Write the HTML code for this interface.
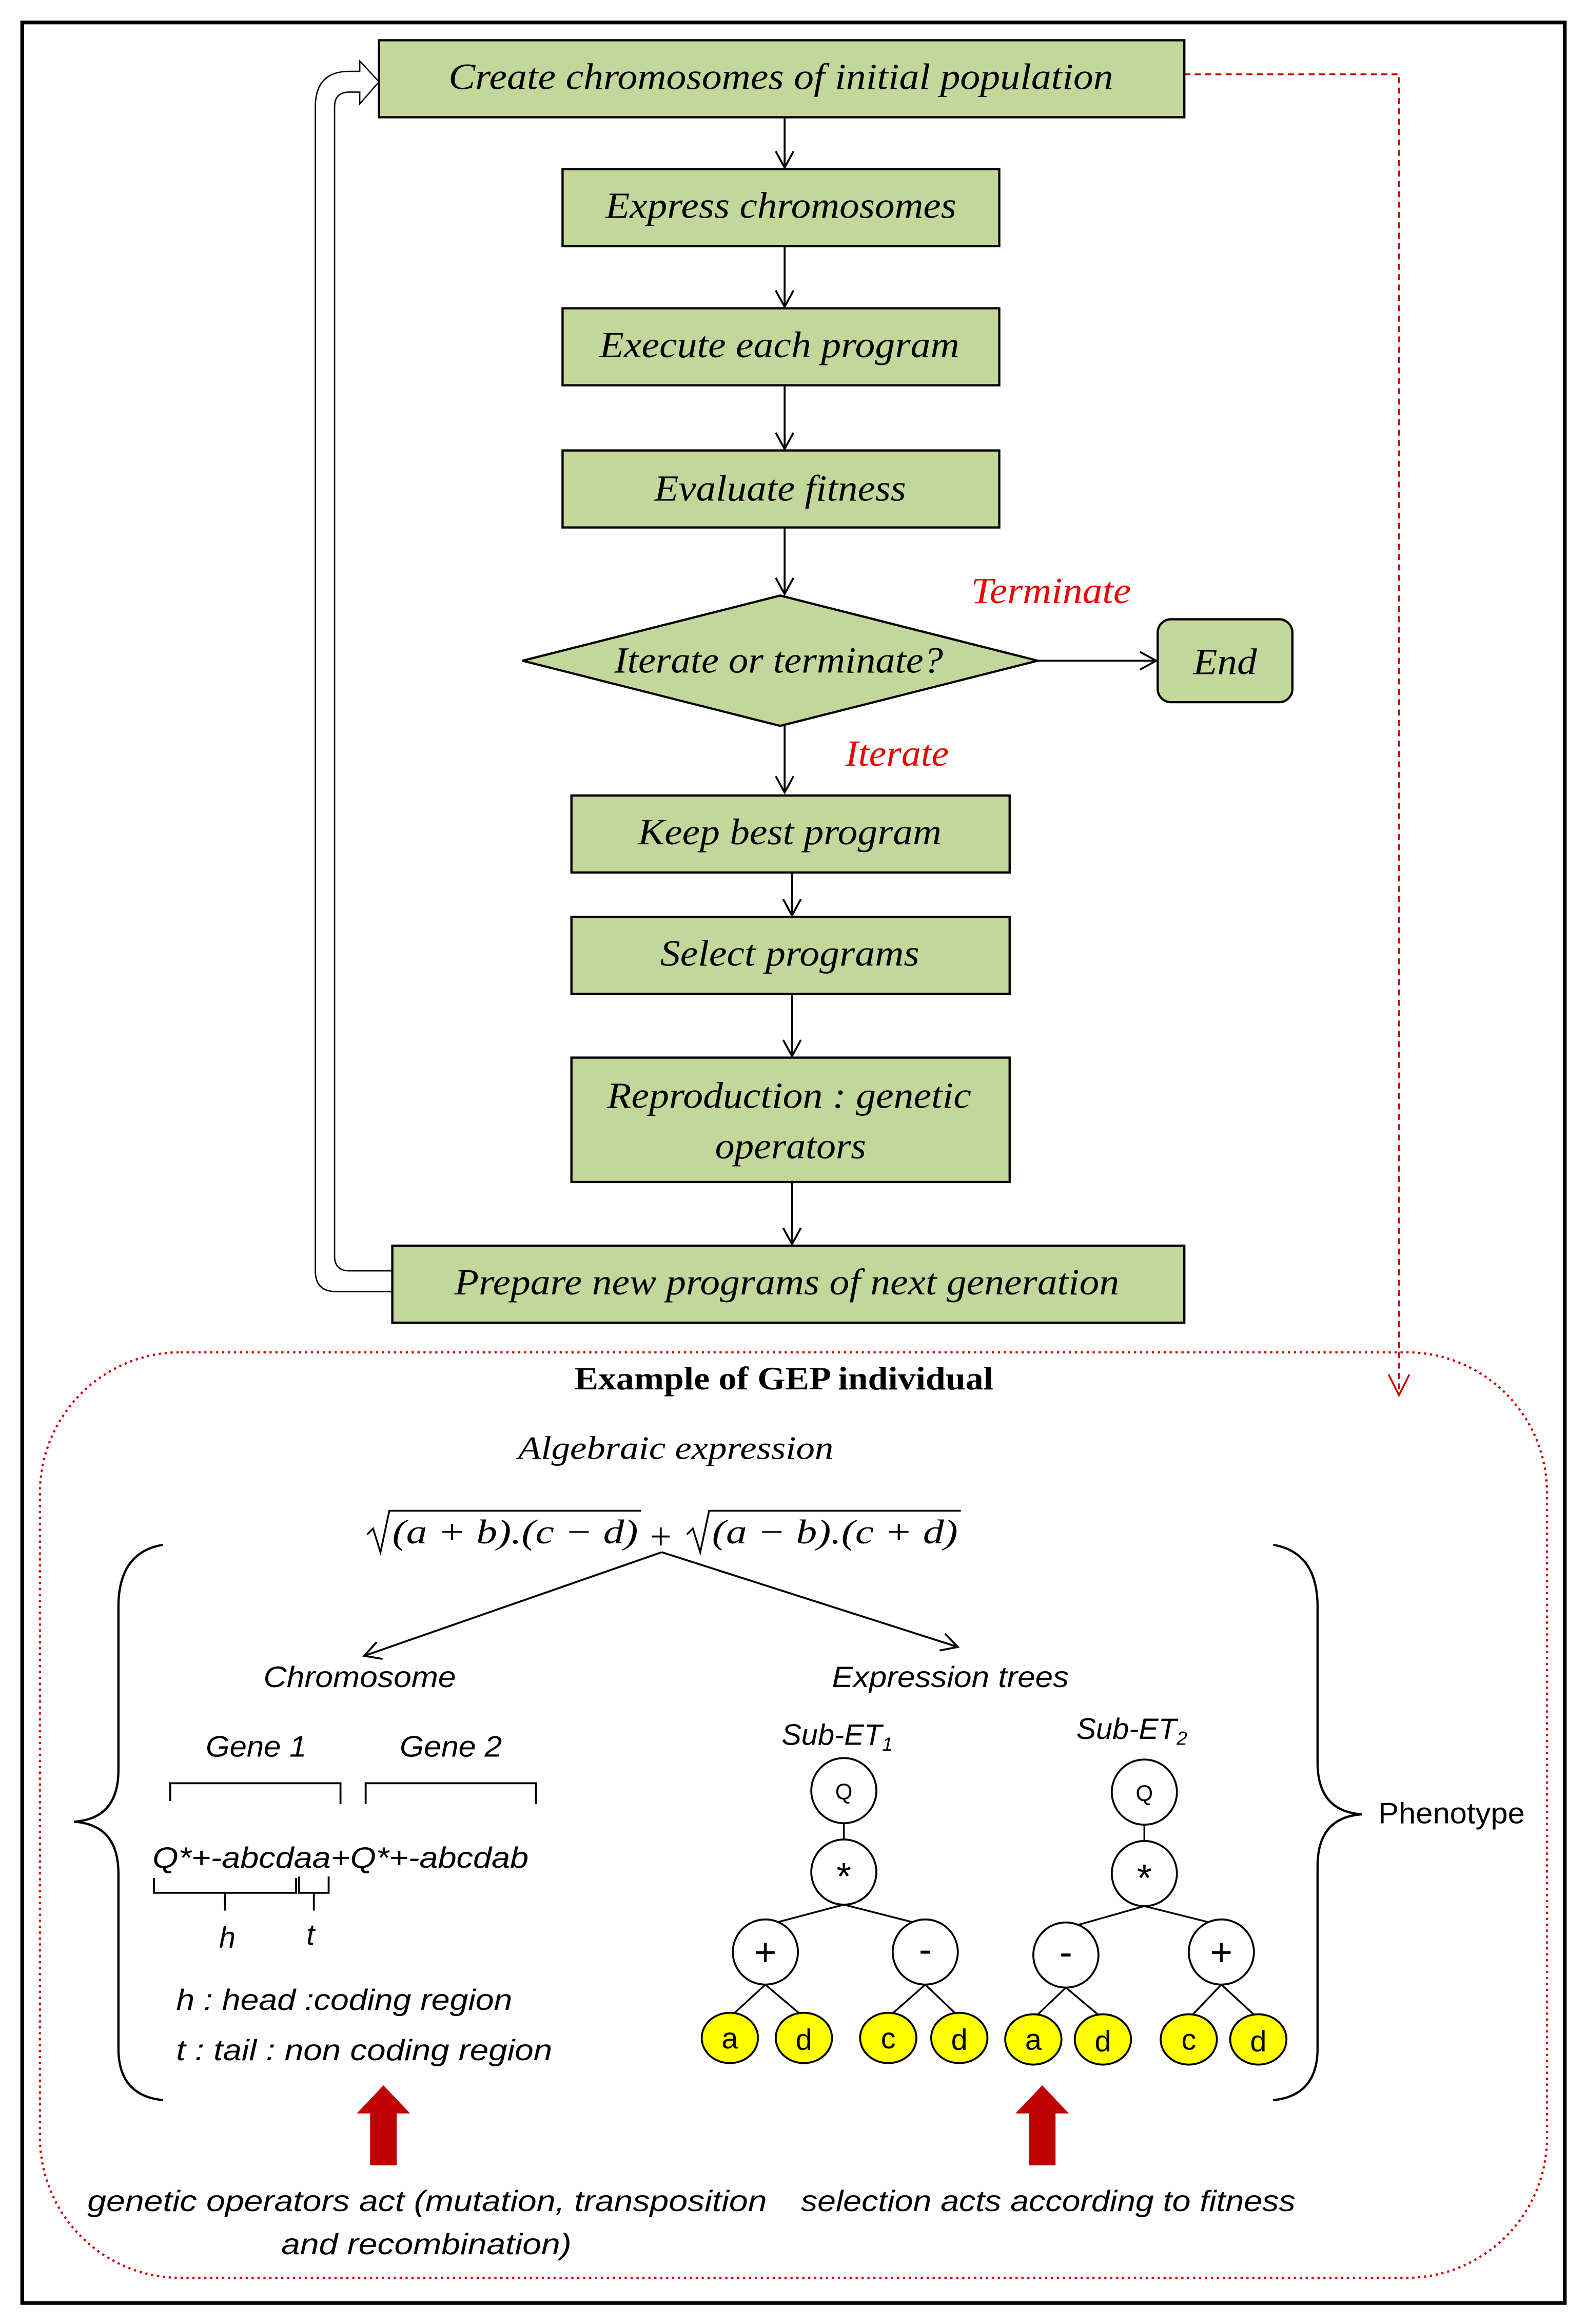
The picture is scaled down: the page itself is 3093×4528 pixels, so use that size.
<!DOCTYPE html>
<html><head><meta charset="utf-8"><style>
html,body{margin:0;padding:0;background:#fff;}
svg{display:block;}
.b{font-family:"Liberation Serif",serif;font-style:italic;font-size:25px;fill:#000;}
.s{font-family:"Liberation Sans",sans-serif;font-style:italic;font-size:19px;fill:#000;}
.n{font-family:"Liberation Sans",sans-serif;font-size:20px;fill:#000;}
</style></head><body>
<svg width="3093" height="4528" viewBox="0 0 1072 1569" xmlns="http://www.w3.org/2000/svg">
<defs>
<marker id="ah" markerWidth="14" markerHeight="14" refX="12" refY="7" orient="auto" markerUnits="userSpaceOnUse"><path d="M1,1 L12,7 L1,13" fill="none" stroke="#000" stroke-width="1.3"/></marker>
</defs>
<rect x="15" y="15" width="1042" height="1540" fill="none" stroke="#000" stroke-width="2.5"/>
<path d="M800,50 H945 V940" fill="none" stroke="#c00" stroke-width="1.2" stroke-dasharray="4,3"/>
<path d="M938,928 L945,942 L952,928" fill="none" stroke="#c00" stroke-width="1.2"/>
<rect x="27" y="913" width="1018" height="625" rx="95" ry="95" fill="none" stroke="#c00" stroke-width="1.5" stroke-dasharray="1.5,2.5"/>
<path d="M265,858 H236 Q226,858 226,848 V72 Q226,62 236,62 H243 V70 L256,55 L243,41 V48 H236 Q213,48 213,72 V858 Q213,872 227,872 H265" fill="#fff" stroke="#000" stroke-width="0.9"/>
<g fill="#c4d79b" stroke="#000" stroke-width="1.5">
<rect x="256" y="27" width="544" height="52"/>
<rect x="380" y="114" width="295" height="52"/>
<rect x="380" y="208" width="295" height="52"/>
<rect x="380" y="304" width="295" height="52"/>
<polygon points="353,446 527,402 701,446 527,490"/>
<rect x="782" y="418" width="91" height="56" rx="9"/>
<rect x="386" y="537" width="296" height="52"/>
<rect x="386" y="619" width="296" height="52"/>
<rect x="386" y="714" width="296" height="84"/>
<rect x="265" y="841" width="535" height="52"/>
</g>
<g stroke="#000" stroke-width="1.3" marker-end="url(#ah)">
<line x1="530" y1="79" x2="530" y2="113"/>
<line x1="530" y1="166" x2="530" y2="207"/>
<line x1="530" y1="260" x2="530" y2="303"/>
<line x1="530" y1="356" x2="530" y2="401"/>
<line x1="701" y1="446" x2="781" y2="446"/>
<line x1="530" y1="490" x2="530" y2="535"/>
<line x1="535" y1="589" x2="535" y2="618"/>
<line x1="535" y1="671" x2="535" y2="713"/>
<line x1="535" y1="798" x2="535" y2="840"/>
</g>
<g class="b">
<text x="303" y="60" textLength="449" lengthAdjust="spacingAndGlyphs">Create chromosomes of initial population</text>
<text x="409" y="147" textLength="237" lengthAdjust="spacingAndGlyphs">Express chromosomes</text>
<text x="405" y="241" textLength="243" lengthAdjust="spacingAndGlyphs">Execute each program</text>
<text x="442" y="338" textLength="170" lengthAdjust="spacingAndGlyphs">Evaluate fitness</text>
<text x="415" y="454" textLength="222" lengthAdjust="spacingAndGlyphs">Iterate or terminate?</text>
<text x="806" y="455" textLength="43" lengthAdjust="spacingAndGlyphs">End</text>
<text x="431" y="570" textLength="205" lengthAdjust="spacingAndGlyphs">Keep best program</text>
<text x="446" y="652" textLength="175" lengthAdjust="spacingAndGlyphs">Select programs</text>
<text x="410" y="748" textLength="246" lengthAdjust="spacingAndGlyphs">Reproduction : genetic</text>
<text x="483" y="782" textLength="102" lengthAdjust="spacingAndGlyphs">operators</text>
<text x="307" y="874" textLength="449" lengthAdjust="spacingAndGlyphs">Prepare new programs of next generation</text>
<text x="656" y="407" style="fill:#e00" textLength="108" lengthAdjust="spacingAndGlyphs">Terminate</text>
<text x="571" y="517" style="fill:#e00" textLength="70" lengthAdjust="spacingAndGlyphs">Iterate</text>
</g>
<text x="388" y="938" textLength="283" lengthAdjust="spacingAndGlyphs" style="font-family:'Liberation Serif',serif;font-weight:bold;font-size:22px">Example of GEP individual</text>
<text x="350" y="985" class="b" style="font-size:22px" textLength="213" lengthAdjust="spacingAndGlyphs">Algebraic expression</text>
<g style="font-family:'Liberation Serif',serif;font-style:italic;font-size:23px">
<path d="M248,1036 L252,1032 L257,1048 L263,1020 H433" fill="none" stroke="#000" stroke-width="1.2"/>
<text x="265" y="1042" textLength="166" lengthAdjust="spacingAndGlyphs">(a + b).(c − d)</text>
<text x="439" y="1046" style="font-style:normal;font-size:26px">+</text>
<path d="M464,1036 L468,1032 L473,1048 L479,1020 H649" fill="none" stroke="#000" stroke-width="1.2"/>
<text x="481" y="1042" textLength="166" lengthAdjust="spacingAndGlyphs">(a − b).(c + d)</text>
</g>
<g stroke="#000" stroke-width="1.3" marker-end="url(#ah)">
<line x1="447" y1="1048" x2="246" y2="1118"/>
<line x1="447" y1="1048" x2="647" y2="1112"/>
</g>
<path d="M110,1043 Q80,1048 80,1085 V1195 Q80,1228 50,1230 Q80,1232 80,1265 V1383 Q80,1415 110,1418" fill="none" stroke="#000" stroke-width="1.5"/>
<path d="M860,1043 Q890,1048 890,1085 V1190 Q890,1223 920,1225 Q890,1227 890,1260 V1383 Q890,1415 860,1418" fill="none" stroke="#000" stroke-width="1.5"/>
<text x="931" y="1231" class="n" textLength="99" lengthAdjust="spacingAndGlyphs">Phenotype</text>
<g class="s">
<text x="178" y="1139" style="font-size:20px" textLength="130" lengthAdjust="spacingAndGlyphs">Chromosome</text>
<text x="562" y="1139" style="font-size:20px" textLength="160" lengthAdjust="spacingAndGlyphs">Expression trees</text>
<text x="139" y="1186" style="font-size:20px" textLength="68" lengthAdjust="spacingAndGlyphs">Gene 1</text>
<text x="270" y="1186" style="font-size:20px" textLength="69" lengthAdjust="spacingAndGlyphs">Gene 2</text>
<text x="103" y="1261" style="font-size:20px" textLength="254" lengthAdjust="spacingAndGlyphs">Q*+-abcdaa+Q*+-abcdab</text>
<text x="148" y="1315" style="font-size:20px">h</text>
<text x="207" y="1313" style="font-size:20px">t</text>
<text x="119" y="1357" style="font-size:20px" textLength="227" lengthAdjust="spacingAndGlyphs">h : head :coding region</text>
<text x="119" y="1391" style="font-size:20px" textLength="254" lengthAdjust="spacingAndGlyphs">t : tail : non coding region</text>
<text x="528" y="1178" style="font-size:20px">Sub-ET<tspan font-size="13" dy="4">1</tspan></text>
<text x="727" y="1174" style="font-size:20px">Sub-ET<tspan font-size="13" dy="4">2</tspan></text>
<text x="59" y="1493" style="font-size:20px" textLength="459" lengthAdjust="spacingAndGlyphs">genetic operators act (mutation, transposition</text>
<text x="190" y="1522" style="font-size:20px" textLength="196" lengthAdjust="spacingAndGlyphs">and recombination)</text>
<text x="541" y="1493" style="font-size:20px" textLength="334" lengthAdjust="spacingAndGlyphs">selection acts according to fitness</text>
</g>
<g fill="none" stroke="#000" stroke-width="1.3">
<path d="M115,1216 V1204 H230 V1218"/>
<path d="M247,1218 V1204 H362 V1218"/>
<path d="M104,1268 V1278 H200 V1268 M152,1278 V1290"/>
<path d="M202,1267 V1278 H222 V1267 M212,1278 V1290"/>
</g>
<g stroke="#000" stroke-width="1.2">
<line x1="570" y1="1231" x2="570" y2="1242"/>
<line x1="570" y1="1286" x2="517" y2="1300"/><line x1="570" y1="1286" x2="625" y2="1300"/>
<line x1="517" y1="1340" x2="493" y2="1362"/><line x1="517" y1="1340" x2="543" y2="1362"/>
<line x1="625" y1="1340" x2="600" y2="1362"/><line x1="625" y1="1340" x2="648" y2="1362"/>
<line x1="773" y1="1232" x2="773" y2="1243"/>
<line x1="773" y1="1287" x2="720" y2="1302"/><line x1="773" y1="1287" x2="825" y2="1300"/>
<line x1="720" y1="1342" x2="698" y2="1363"/><line x1="720" y1="1342" x2="745" y2="1363"/>
<line x1="825" y1="1340" x2="803" y2="1363"/><line x1="825" y1="1340" x2="850" y2="1363"/>
</g>
<g stroke="#000" stroke-width="1.3" fill="#fff">
<ellipse cx="570" cy="1209" rx="22" ry="22"/><ellipse cx="570" cy="1264" rx="22" ry="22"/>
<ellipse cx="517" cy="1318" rx="22" ry="22"/><ellipse cx="625" cy="1318" rx="22" ry="22"/>
<ellipse cx="773" cy="1210" rx="22" ry="22"/><ellipse cx="773" cy="1265" rx="22" ry="22"/>
<ellipse cx="720" cy="1320" rx="22" ry="22"/><ellipse cx="825" cy="1318" rx="22" ry="22"/>
</g>
<g stroke="#000" stroke-width="1.3" fill="#ffff00">
<ellipse cx="493" cy="1376" rx="19" ry="17"/><ellipse cx="543" cy="1376" rx="19" ry="17"/>
<ellipse cx="600" cy="1376" rx="19" ry="17"/><ellipse cx="648" cy="1376" rx="19" ry="17"/>
<ellipse cx="698" cy="1377" rx="19" ry="17"/><ellipse cx="745" cy="1377" rx="19" ry="17"/>
<ellipse cx="803" cy="1377" rx="19" ry="17"/><ellipse cx="850" cy="1377" rx="19" ry="17"/>
</g>
<g class="n" text-anchor="middle">
<text x="570" y="1215" font-size="15">Q</text><text x="570" y="1276" font-size="26">*</text>
<text x="517" y="1327" font-size="26">+</text><text x="625" y="1325" font-size="26">-</text>
<text x="773" y="1216" font-size="15">Q</text><text x="773" y="1277" font-size="26">*</text>
<text x="720" y="1327" font-size="26">-</text><text x="825" y="1327" font-size="26">+</text>
<text x="493" y="1383">a</text><text x="543" y="1384">d</text><text x="600" y="1383">c</text><text x="648" y="1384">d</text>
<text x="698" y="1384">a</text><text x="745" y="1385">d</text><text x="803" y="1384">c</text><text x="850" y="1385">d</text>
</g>
<polygon points="259,1408 277,1427 268,1427 268,1462 250,1462 250,1427 241,1427" fill="#c00000"/>
<polygon points="704,1408 722,1427 713,1427 713,1462 695,1462 695,1427 686,1427" fill="#c00000"/>
</svg>
</body></html>
